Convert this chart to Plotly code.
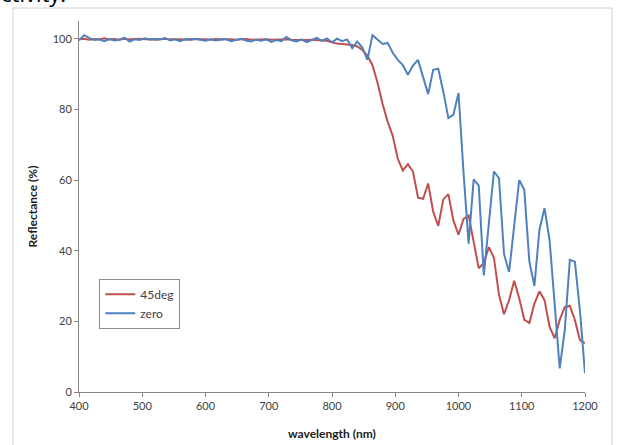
import plotly.graph_objects as go

wavelength = [400 + 8 * i for i in range(101)]

refl_45deg = [
    99.8, 100.0, 99.7, 99.9, 99.8, 100.1, 99.8, 99.9, 99.7, 100.0,
    99.8, 99.9, 100.0, 99.8, 99.9, 99.7, 99.9, 100.0, 99.8, 99.9,
    99.8, 99.7, 99.9, 99.8, 99.9, 99.8, 99.7, 99.9, 99.8, 99.9,
    99.8, 99.7, 99.8, 99.9, 99.7, 99.8, 99.7, 99.8, 99.7, 99.8,
    99.7, 99.8, 99.7, 99.6, 99.7, 99.6, 99.7, 99.6, 99.6, 99.4,
    99.0, 98.6, 98.5, 98.4, 98.2, 97.8, 96.8, 95.2, 92.5, 87.5,
    81.5, 76.5, 72.5, 66.0, 62.7, 64.5, 62.4, 55.0, 54.7, 59.0,
    51.0, 47.0, 54.5, 56.0, 48.5, 44.5, 49.0, 50.0, 42.5, 35.0,
    36.5, 41.0, 38.0, 27.5, 22.0, 26.0, 31.5, 26.5, 20.5, 19.5,
    25.0, 28.5, 26.0, 18.5, 15.2, 20.4, 24.0, 24.4, 20.4, 14.7,
    13.8,
]

refl_zero = [
    99.5, 101.0, 100.2, 99.6, 99.8, 99.3, 99.9, 99.5, 99.7, 100.3,
    99.2, 99.8, 99.6, 100.1, 99.7, 99.9, 99.8, 100.2, 99.5, 99.8,
    99.3, 99.9, 99.6, 100.0, 99.7, 99.4, 99.8, 99.5, 99.7, 99.9,
    99.3, 99.6, 100.0, 99.5, 99.2, 99.7, 99.4, 99.8, 99.1, 99.6,
    99.3, 100.5, 99.5, 99.2, 99.8, 99.0, 99.6, 100.2, 99.4, 100.1,
    99.0, 100.0, 99.3, 99.8, 97.3, 99.2, 97.5, 94.0, 101.0, 99.8,
    98.5, 98.8, 96.0, 94.0, 92.5, 89.8, 92.4, 94.0, 89.5, 84.3,
    91.2, 91.5, 85.0, 77.5, 78.5, 84.6, 62.0, 42.0, 60.2, 58.4,
    33.0, 47.0, 62.4, 60.5, 39.0, 34.0, 47.0, 60.0, 57.2, 37.0,
    30.0, 46.0, 52.0, 43.0, 25.0, 6.7, 17.6, 37.4, 36.9, 23.0,
    5.3,
]

series_names = ["45deg", "zero"]
x_ticks = [400, 500, 600, 700, 800, 900, 1000, 1100, 1200]
y_ticks = [0, 20, 40, 60, 80, 100]

FONT = "Lato, 'Open Sans', sans-serif"
AXIS_COL = "#868686"

fig = go.Figure()
fig.add_trace(go.Scatter(x=wavelength, y=refl_45deg, mode="lines", name=series_names[0],
                         line=dict(color="#C0504D", width=2)))
fig.add_trace(go.Scatter(x=wavelength, y=refl_zero, mode="lines", name=series_names[1],
                         line=dict(color="#4F81BD", width=2)))

fig.update_layout(
    width=621, height=445,
    margin=dict(l=79, r=36, t=21, b=53),
    paper_bgcolor="white", plot_bgcolor="white",
    font=dict(family=FONT, size=11, color="#404040"),
    showlegend=True,
    legend=dict(x=0.04, y=0.305, xanchor="left", yanchor="top",
                bordercolor="#8c8c8c", borderwidth=1, bgcolor="white",
                font=dict(size=12, color="#404040"),
                itemwidth=30, tracegroupgap=2),
    xaxis=dict(range=[400, 1200], tickvals=x_ticks, showgrid=False, zeroline=False,
               showline=True, linecolor=AXIS_COL, linewidth=1, automargin=False,
               ticks="outside", ticklen=4, tickcolor=AXIS_COL,
               title=dict(text="<b>wavelength (nm)</b>", standoff=18,
                          font=dict(size=12, color="#202020"))),
    yaxis=dict(range=[0, 105], tickvals=y_ticks, showgrid=False, zeroline=False,
               showline=True, linecolor=AXIS_COL, linewidth=1, automargin=False,
               ticks="outside", ticklen=4, tickcolor=AXIS_COL,
               title=dict(text="<b>Reflectance (%)</b>", standoff=12,
                          font=dict(size=12, color="#202020"))),
    shapes=[dict(type="rect", xref="paper", yref="paper",
                 x0=-0.1304, x1=1.0534, y0=-0.17, y1=1.035,
                 line=dict(color="#d0d0d0", width=1), layer="below")],
    annotations=[dict(text="ctivity.", xref="paper", yref="paper",
                      x=-0.158, y=1.029, xanchor="left", yanchor="bottom",
                      showarrow=False, font=dict(size=22, color="#000000",
                                                 family="'Open Sans', sans-serif"))],
)

fig.write_html("out.html", config={"displayModeBar": False},
               post_script="document.body.style.margin='0';")
